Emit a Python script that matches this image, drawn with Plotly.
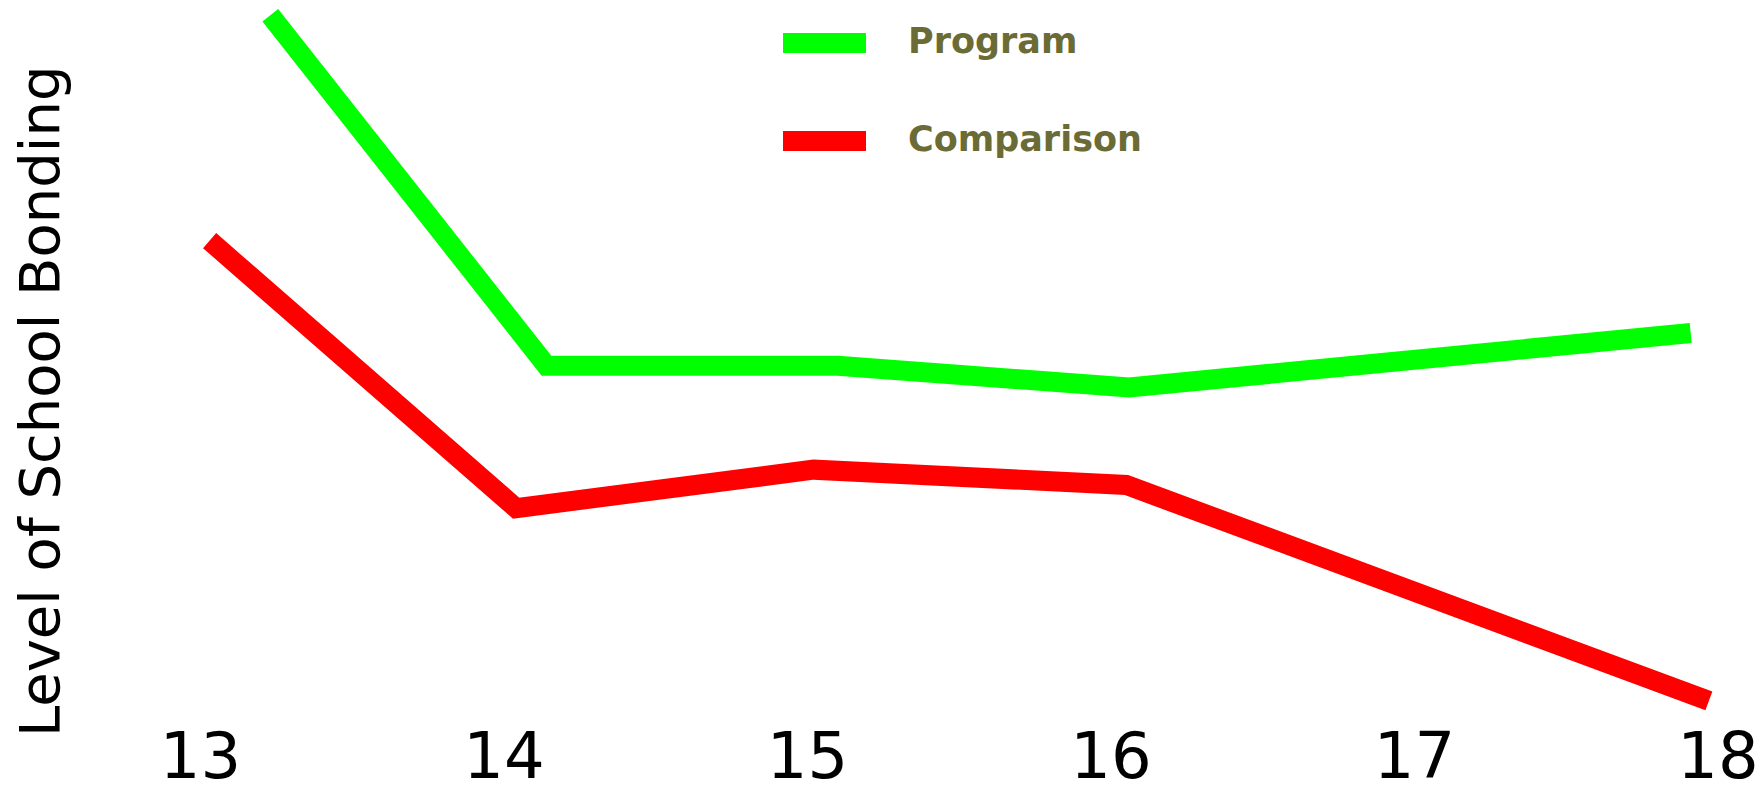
import plotly.graph_objects as go

# Data (age vs. level of school bonding, arbitrary 0-100 scale)
ages_tick = [13, 14, 15, 16, 17, 18]
program_x = [13.23, 14.14, 15.10, 16.06, 17.91]
program_y = [97.9, 49.7, 49.7, 46.7, 54.2]
comparison_x = [13.03, 14.04, 15.02, 16.05, 17.97]
comparison_y = [66.9, 30.1, 35.4, 33.3, 3.6]
series_names = ["Program", "Comparison"]
series_colors = ["#00ff00", "#ff0000"]

W, H = 1762, 797
PLOT_H = 727
X0_PX, X_SP = 200.5, 303.5
xr = [13 - X0_PX / X_SP, 13 + (W - X0_PX) / X_SP]

fig = go.Figure()
for xs, ys, name, col in [(program_x, program_y, series_names[0], series_colors[0]),
                          (comparison_x, comparison_y, series_names[1], series_colors[1])]:
    fig.add_trace(go.Scatter(x=xs, y=ys, mode="lines", name=name,
                             line=dict(color=col, width=20), showlegend=False,
                             cliponaxis=False))

# manual legend
for i, (name, col) in enumerate(zip(series_names, series_colors)):
    yc = 1 - [43, 141][i] / PLOT_H
    fig.add_shape(type="line", xref="paper", yref="paper",
                  x0=783 / W, x1=866 / W, y0=yc, y1=yc,
                  line=dict(color=col, width=20))
    fig.add_annotation(xref="paper", yref="paper", x=906 / W, y=yc + 2 / PLOT_H,
                       xanchor="left", yanchor="middle", showarrow=False,
                       text="<b>%s</b>" % name,
                       font=dict(family="DejaVu Sans", size=35, color="#6b6b35"))

fig.add_annotation(xref="paper", yref="paper", x=39 / W, y=(PLOT_H - 402) / PLOT_H,
                   xanchor="center", yanchor="middle", showarrow=False,
                   textangle=-90, text="Level of School Bonding",
                   font=dict(family="DejaVu Sans", size=56, color="black"))

fig.update_layout(
    width=W, height=H,
    margin=dict(l=0, r=0, t=0, b=H - PLOT_H),
    plot_bgcolor="white", paper_bgcolor="white",
    xaxis=dict(range=xr, tickvals=ages_tick, ticktext=[str(a) for a in ages_tick],
               showgrid=False, zeroline=False, showline=False, ticks="",
               automargin=False, ticklabelstandoff=-14,
               tickfont=dict(family="DejaVu Sans", size=64, color="black")),
    yaxis=dict(range=[0, 100], showgrid=False, zeroline=False, showline=False,
               showticklabels=False, ticks="", automargin=False),
)
fig.write_html("out.html")
